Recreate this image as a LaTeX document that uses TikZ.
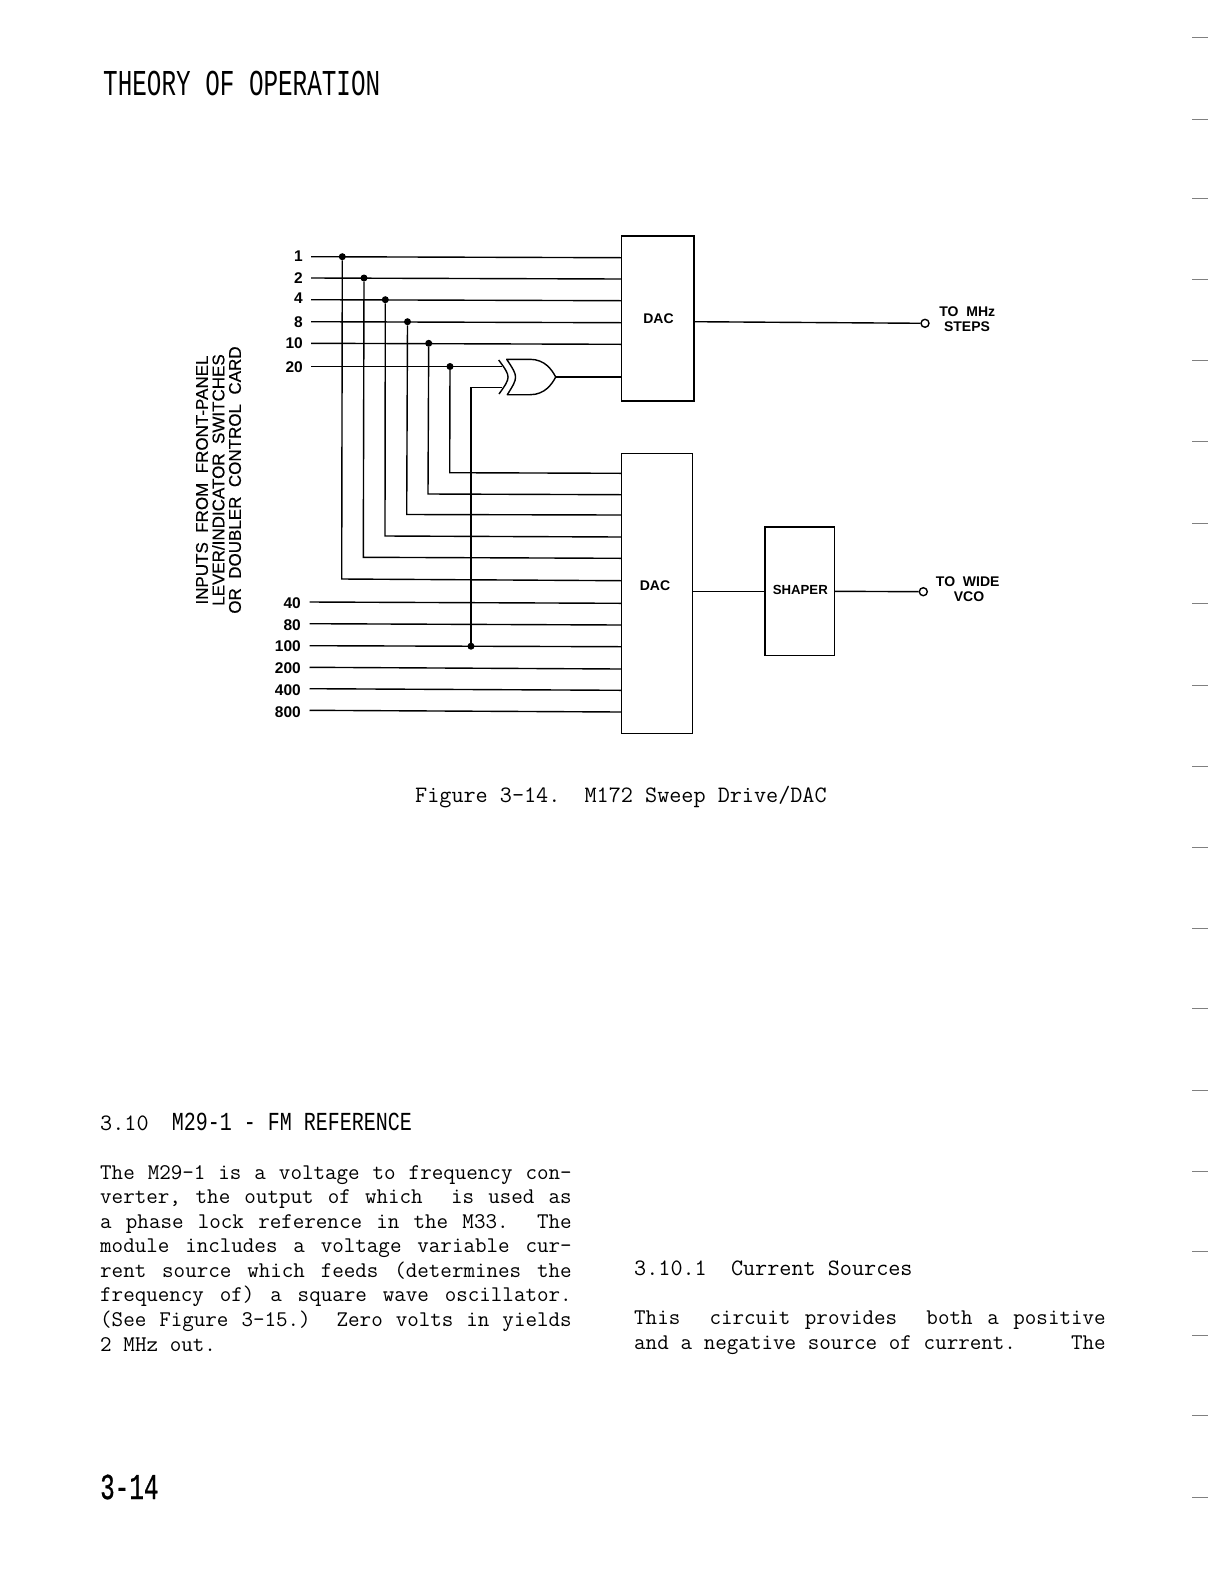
\documentclass[tikz,border=0pt]{standalone}
\usepackage{fontspec}
\newfontfamily\headfont{Liberation Mono}
\newfontfamily\headheavy[FakeBold=0.8]{Liberation Mono}
\newfontfamily\diagfont{Liberation Sans}
\newfontfamily\sidefont[FakeBold=0.4]{Liberation Sans}
\tikzset{
	wire/.style = {line width=1.4pt},
	boxblock/.style = {draw, line width=1.4pt, inner sep=0pt, outer sep=0pt},
	blocklabel/.style = {font=\diagfont\bfseries\fontsize{14}{14}\selectfont, inner sep=0pt},
	numlabel/.style = {font=\diagfont\bfseries\fontsize{15.5}{15.5}\selectfont, inner sep=0pt, anchor=east},
	dot/.style = {circle, fill, inner sep=0pt, minimum size=7pt},
	term/.style = {circle, draw, line width=1.4pt, fill=white, inner sep=0pt, minimum size=8pt},
	typed/.style = {font=\fontsize{22.4}{24.55}\ttfamily\selectfont\spaceskip 11.76pt plus 8pt\relax, inner sep=0pt, anchor=base west},
	typedwide/.style = {typed, font=\fontsize{23.5}{24.55}\ttfamily\selectfont},
	parblock/.style = {typed, anchor=north west, text width=471.5pt, align=justify},
	tallhead/.style = {font=\headfont\fontsize{24.3}{24.3}\selectfont, inner sep=0pt, anchor=base west},
	tick/.style = {gray, line width=1pt}
}
\begin{document}
\begin{tikzpicture}[x=1pt,y=-1pt]
	\useasboundingbox (0,0) rectangle (1224,1580);
	\node[tallhead] (title) at (103,95) {\scalebox{1}[1.5]{THEORY OF OPERATION}};

	\node[boxblock, minimum width=72.3pt, minimum height=165pt] (dacA) at (657.8,318.5) {};
	\node[boxblock, minimum width=71.5pt, minimum height=280pt] (dacB) at (657,593.7) {};
	\node[boxblock, minimum width=69.3pt, minimum height=128.7pt] (shaper) at (799.7,591.3) {};
	\node[blocklabel] (dacAname) at (658.5,318.3) {DAC};
	\node[blocklabel] (dacBname) at (655,585.7) {DAC};
	\node[blocklabel, font=\diagfont\bfseries\fontsize{13.2}{13.2}\selectfont] (shapername) at (800.3,589.5) {SHAPER};

	\draw[line width=1.4pt] (498.7,360) .. controls (511.1,377) .. (499,394);
	\draw[line width=1.4pt, line join=round] (506.7,359.3) .. controls (518.4,377) .. (507.3,394.7) -- (530,394.7)
		.. controls (545,394.7) and (552,384) .. (555.7,377)
		.. controls (552,370) and (545,359.3) .. (530,359.3) -- cycle;
	\coordinate (gatein1) at (502,366.5);
	\coordinate (gatein2) at (502,387.5);
	\coordinate (gateout) at (555.7,377);

	\foreach \lbl/\yl/\ya/\yb/\jx/\xc/\yc/\yd in {
		1/255.7/256.7/257.7/342.3/341.7/579/580.7,
		2/278/278/279/364/363.3/557.3/558.3,
		4/298.5/299.7/300.7/385.3/385/536/537,
		8/321.7/321.7/322.7/407.5/406.7/514.5/515,
		10/343/343.3/344.3/428.7/428/494/494.7
	}{
		\node[numlabel] (in\lbl) at (303,\yl) {\lbl};
		\coordinate (s\lbl) at (311,\ya);
		\coordinate (e\lbl) at (621.7,\yb);
		\coordinate (c\lbl) at (\xc,\yc);
		\coordinate (f\lbl) at (621.7,\yd);
		\node[dot] (j\lbl) at (\jx,\ya) {};
		\draw[wire] (s\lbl) -- (e\lbl);
		\draw[wire] (j\lbl) -- (c\lbl) -- (f\lbl);
	}

	\node[numlabel] (in20) at (303,367) {20};
	\coordinate (s20) at (311,366.5);
	\coordinate (c20) at (449.7,472.7);
	\coordinate (f20) at (621.7,473.3);
	\node[dot] (j20) at (450,366.5) {};
	\draw[wire] (s20) -- (gatein1);
	\draw[wire] (j20) -- (c20) -- (f20);
	\draw[wire] (gateout) -- (dacA.west |- gateout);

	\foreach \lbl/\yl/\ya/\yb in {
		40/602.7/602/603.3,
		80/625/623.7/625,
		100/645.7/645.7/646.7,
		200/668/667.3/669,
		400/690/688.7/690.3,
		800/712/710.3/712
	}{
		\node[numlabel] (in\lbl) at (301,\yl) {\lbl};
		\coordinate (s\lbl) at (309.5,\ya);
		\coordinate (e\lbl) at (621,\yb);
		\draw[wire] (s\lbl) -- (e\lbl);
	}
	\node[dot] (j100) at (471,646.2) {};
	\draw[wire] (gatein2) -| (j100);

	\node[term] (outA) at (925,323.3) {};
	\node[term] (outB) at (923.3,591.7) {};
	\draw[wire] (dacA.east |- 0,321.7) -- (outA);
	\draw[wire] (dacB.east |- shaper.west) -- (shaper.west);
	\draw[wire] (shaper.east) -- (outB);
	\node[blocklabel] (stepsA) at (967.3,311.7) {TO\ \ MHz};
	\node[blocklabel] (stepsB) at (967,326.7) {STEPS};
	\node[blocklabel] (vcoA) at (967.7,581.7) {TO\ \ WIDE};
	\node[blocklabel] (vcoB) at (969,596.7) {VCO};

	\node[rotate=90, font=\sidefont\fontsize{17}{16.5}\selectfont, align=center, inner sep=0pt] (inputs) at (218.5,480) {INPUTS\ \ FROM\ \ FRONT-PANEL\\LEVER/INDICATOR\ \ SWITCHES\\OR\ \ DOUBLER\ \ CONTROL\ \ CARD};

	\node[typedwide] (caption) at (415,802) {Figure 3-14.\ \ M172 Sweep Drive/DAC};

	\node[typedwide] (secnum) at (100,1130) {3.10};
	\node[tallhead, font=\headfont\fontsize{20}{20}\selectfont] (sechead) at (171.7,1130) {\scalebox{1}[1.3]{M29-1 - FM REFERENCE}};
	\node[parblock] (parleft) at (100,1165) {The M29-1 is a voltage to frequency con-\linebreak
		verter, the output of which\ \ is used as\linebreak
		a phase lock reference in the M33.\ \ The\linebreak
		module includes a voltage variable cur-\linebreak
		rent source which feeds (determines the\linebreak
		frequency of) a square wave oscillator.\linebreak
		(See Figure 3-15.)\ \ Zero volts in yields\linebreak
		2 MHz out.};

	\node[typedwide] (subhead) at (634,1275) {3.10.1\ \ Current Sources};
	\node[parblock] (parright) at (634,1311) {This\ \ circuit provides\ \ both a positive\linebreak
		and a negative source of current.\hfill The};

	\node[tallhead, font=\headheavy\fontsize{24.3}{24.3}\selectfont] (pagenum) at (100,1499) {\scalebox{1}[1.5]{3-14}};

	\foreach \yt in {37,119,198,279,360,441,523,603,685,766,847,928,1008,1090,1171,1251,1335,1415,1497}
		\draw[tick] (1192,\yt) -- (1208,\yt);
\end{tikzpicture}
\end{document}
